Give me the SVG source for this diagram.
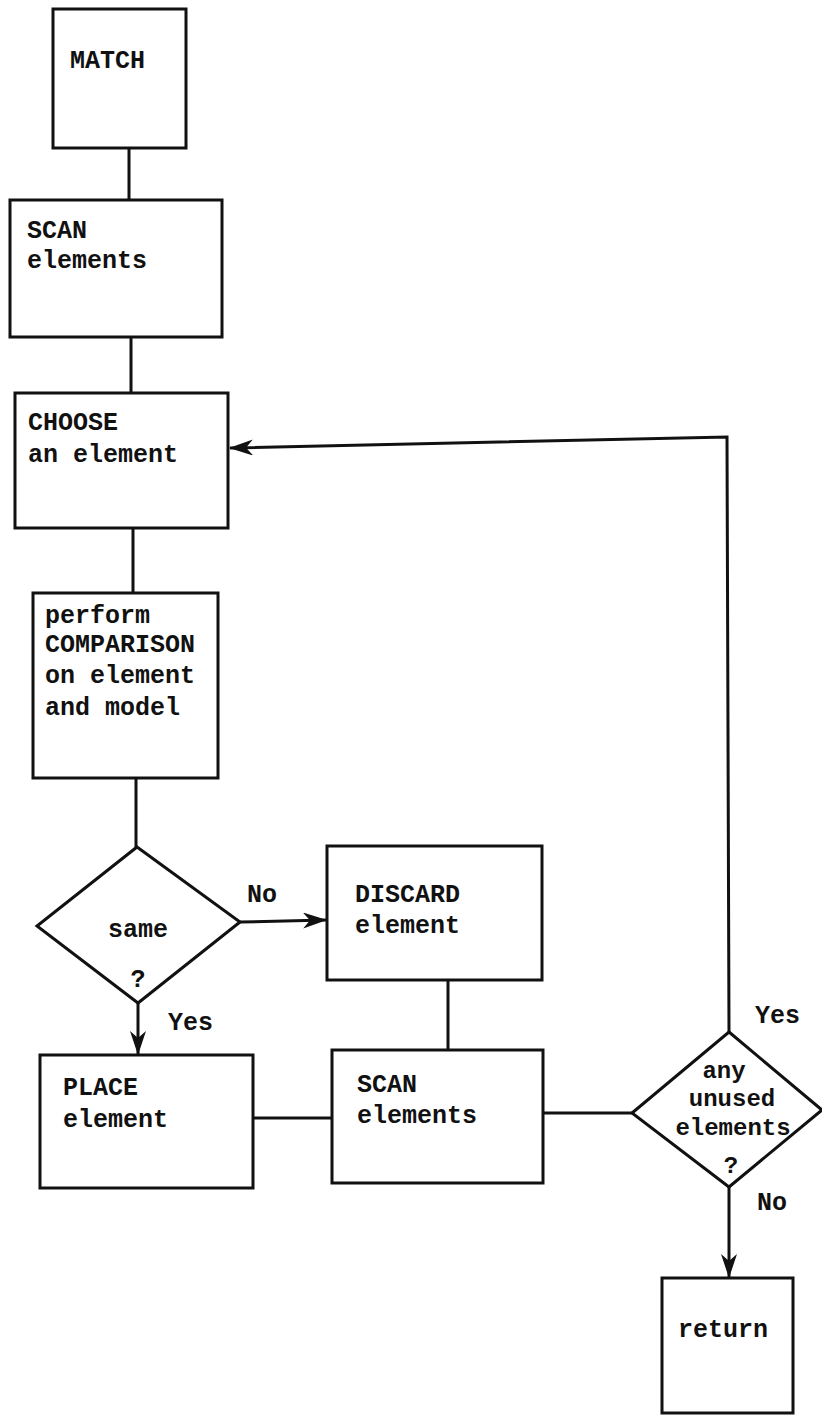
<svg xmlns="http://www.w3.org/2000/svg" width="822" height="1415" viewBox="0 0 822 1415">
<style>
.box{fill:none;stroke:#111;stroke-width:3;stroke-linejoin:miter}
.ln{fill:none;stroke:#111;stroke-width:3}
text{font-family:"Liberation Mono","DejaVu Sans Mono",monospace;font-size:25px;font-weight:bold;fill:#111}
.c{text-anchor:middle}
.s{font-size:24px}
</style>
<defs>
<marker id="arr" viewBox="0 0 24 16" refX="23" refY="8" markerWidth="24" markerHeight="16" markerUnits="userSpaceOnUse" orient="auto">
<path d="M0,0 L24,8 L0,16 L7,8 Z" fill="#111"/>
</marker>
</defs>
<rect width="822" height="1415" fill="#fff"/>
<g id="connectors">
<line class="ln" x1="129" y1="148" x2="129" y2="200"/>
<line class="ln" x1="131" y1="337" x2="131" y2="393"/>
<line class="ln" x1="133" y1="528" x2="133" y2="593"/>
<line class="ln" x1="136" y1="778" x2="136" y2="847"/>
<line class="ln" x1="240" y1="922" x2="326" y2="920" marker-end="url(#arr)"/>
<line class="ln" x1="138" y1="1003" x2="138" y2="1054" marker-end="url(#arr)"/>
<line class="ln" x1="448" y1="980" x2="448" y2="1050"/>
<line class="ln" x1="253" y1="1118" x2="332" y2="1118"/>
<line class="ln" x1="543" y1="1113" x2="632" y2="1113"/>
<polyline class="ln" points="729,1032 727,437 230,448" marker-end="url(#arr)"/>
<line class="ln" x1="729" y1="1187" x2="729" y2="1277" marker-end="url(#arr)"/>
<text x="247" y="902">No</text>
<text x="168" y="1030">Yes</text>
<text x="755" y="1023">Yes</text>
<text x="757" y="1210">No</text>
</g>
<g id="match">
<rect class="box" x="53" y="9" width="133" height="139"/>
<text x="70" y="68">MATCH</text>
</g>
<g id="scan1">
<rect class="box" x="10" y="200" width="212" height="137"/>
<text x="27" y="238">SCAN</text>
<text x="27" y="268">elements</text>
</g>
<g id="choose">
<rect class="box" x="15" y="393" width="213" height="135"/>
<text x="28" y="430">CHOOSE</text>
<text x="28" y="462">an element</text>
</g>
<g id="compare">
<rect class="box" x="33" y="593" width="185" height="185"/>
<text x="45" y="623">perform</text>
<text x="45" y="652">COMPARISON</text>
<text x="45" y="683">on element</text>
<text x="45" y="715">and model</text>
</g>
<g id="same">
<polygon class="box" points="137,847 240,922 138,1003 37,926"/>
<text class="c" x="138" y="937">same</text>
<text class="c" x="138" y="987">?</text>
</g>
<g id="discard">
<rect class="box" x="327" y="846" width="215" height="134"/>
<text x="355" y="902">DISCARD</text>
<text x="355" y="933">element</text>
</g>
<g id="place">
<rect class="box" x="40" y="1055" width="213" height="133"/>
<text x="63" y="1095">PLACE</text>
<text x="63" y="1127">element</text>
</g>
<g id="scan2">
<rect class="box" x="332" y="1050" width="211" height="133"/>
<text x="357" y="1092">SCAN</text>
<text x="357" y="1123">elements</text>
</g>
<g id="unused">
<polygon class="box" points="729,1032 822,1110 729,1187 632,1113"/>
<text class="c s" x="724" y="1078">any</text>
<text class="c s" x="732" y="1106">unused</text>
<text class="c s" x="733" y="1135">elements</text>
<text class="c s" x="731" y="1173">?</text>
</g>
<g id="return">
<rect class="box" x="662" y="1278" width="131" height="135"/>
<text x="678" y="1337">return</text>
</g>
</svg>
